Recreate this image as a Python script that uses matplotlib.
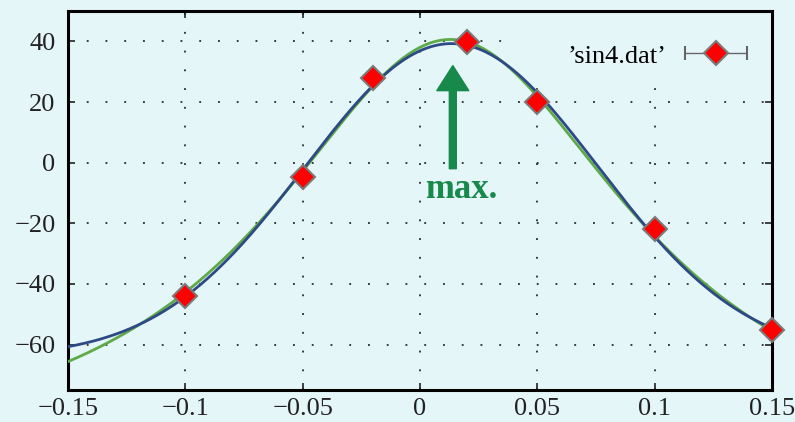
import numpy as np
import matplotlib
matplotlib.use("Agg")
import matplotlib.pyplot as plt
from matplotlib.patches import Rectangle
from matplotlib.container import ErrorbarContainer
from matplotlib.legend_handler import HandlerErrorbar

# measured points from sin4.dat
x_data = np.array([-0.10, -0.05, -0.02, 0.02, 0.05, 0.10, 0.15])
y_data = np.array([-44.0, -4.6, 27.8, 39.7, 19.9, -21.9, -55.3])

x_ticks = [-0.15, -0.1, -0.05, 0, 0.05, 0.1, 0.15]
x_ticklabels = ["\u22120.15", "\u22120.1", "\u22120.05", "0", "0.05", "0.1", "0.15"]
y_ticks = [-60, -40, -20, 0, 20, 40]
y_ticklabels = ["\u221260", "\u221240", "\u221220", "0", "20", "40"]

bg = "#e5f6f9"
blue = "#2e4a86"
green = "#5daa47"
arrow_green = "#17894a"

plt.rcParams['font.family'] = ['Liberation Serif', 'DejaVu Serif']


def gaussian(t, b, w):
    return np.exp(-(t - b) ** 2 / (2 * w ** 2))


def lorentzian(t, b, w):
    return 1.0 / (1.0 + ((t - b) / w) ** 2)


def peak_fit(shape, x, y, widths):
    # shape*a + d: grid over centre and width, linear lstsq for a and d
    best = None
    for b in np.linspace(-0.03, 0.05, 161):
        for w in widths:
            A = np.column_stack([shape(x, b, w), np.ones_like(x)])
            coef = np.linalg.lstsq(A, y, rcond=None)[0]
            r = np.sum((A @ coef - y) ** 2)
            if best is None or r < best[0]:
                best = (r, b, w, coef)
    _, b, w, coef = best
    return lambda t: coef[0] * shape(t, b, w) + coef[1]


xs = np.linspace(-0.15, 0.15, 400)
gfit = peak_fit(gaussian, x_data, y_data, np.linspace(0.03, 0.15, 241))
lfit = peak_fit(lorentzian, x_data, y_data, np.linspace(0.02, 0.3, 281))

fig = plt.figure(figsize=(7.95, 4.22), dpi=100, facecolor=bg)
ax = fig.add_axes([0.0855, 0.0758, 0.8855, 0.898])
ax.set_facecolor(bg)

# key area hides the grid behind it
ax.add_patch(Rectangle((0.628, 0.802), 0.372, 0.198, transform=ax.transAxes,
                       facecolor=bg, edgecolor='none', zorder=1.8))

ax.plot(xs, lfit(xs), color=green, lw=2.0, zorder=3)
ax.plot(xs, gfit(xs), color=blue, lw=2.0, zorder=4)
ax.errorbar(x_data, y_data, xerr=np.zeros_like(x_data), fmt='D', color='#666666',
            ecolor='#666666', elinewidth=1.0, capsize=5, capthick=1.0,
            markerfacecolor='red', markeredgecolor='#7a7a7a', markeredgewidth=1.5,
            markersize=12, zorder=5, clip_on=False, label="\u2019sin4.dat\u2019")

ax.annotate("", xy=(0.014, 32), xytext=(0.014, -2),
            arrowprops=dict(facecolor=arrow_green, edgecolor=arrow_green,
                            width=5, headwidth=23, headlength=18))
ax.text(0.0175, -11.6, "max.", color=arrow_green, fontsize=25, fontweight='bold',
        ha='center', va='baseline')

ax.set_xlim(-0.15, 0.15)
ax.set_ylim(-75, 50)
ax.set_xticks(x_ticks)
ax.set_xticklabels(x_ticklabels)
ax.set_yticks(y_ticks)
ax.set_yticklabels(y_ticklabels)
ax.tick_params(direction='in', length=5, width=1.2, top=True, right=True,
               labelsize=19, colors='#222222')
ax.tick_params(axis='y', pad=9)
ax.tick_params(axis='x', pad=6)
ax.grid(True, color='#333333', linestyle=(0, (1, 9)), linewidth=1.35)
for s in ax.spines.values():
    s.set_linewidth(2.2)
    s.set_color('black')

leg = ax.legend(loc='center right', bbox_to_anchor=(0.9645, 0.882), frameon=False,
                markerfirst=False, fontsize=19, handlelength=2.35,
                handletextpad=0.7, borderaxespad=0, borderpad=0,
                handler_map={ErrorbarContainer: HandlerErrorbar(xerr_size=1.175)})

fig.savefig("out.png", dpi=100, facecolor=bg)
